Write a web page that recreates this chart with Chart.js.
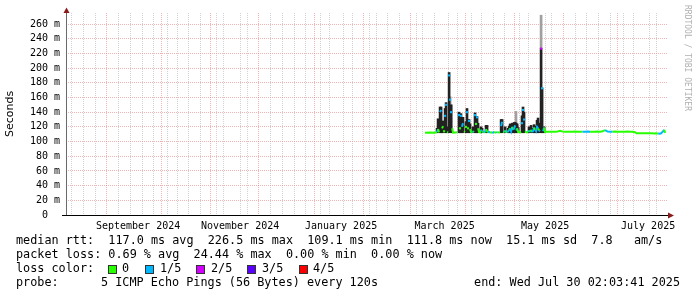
<!DOCTYPE html>
<html>
<head>
<meta charset="utf-8">
<script src="https://cdn.jsdelivr.net/npm/chart.js@4"></script>
<style>
  body { margin: 0; background: #fff; }
  canvas { display: block; }
</style>
</head>
<body>
<canvas id="chart" width="697" height="297"></canvas>
<script>
// smokeping style graph, last 360 days ending Wed Jul 30 02:03:41 2025
// x values are days since the window start (Aug 4 2024 02:03:41)
var windowStart = Date.UTC(2024, 7, 4, 2, 3, 41);
var windowDays = 360;
var yMax = 275;

var monthLabels = ['September 2024', 'November 2024', 'January 2025', 'March 2025', 'May 2025', 'July 2025'];
var monthLabelDays = [43.1, 104.1, 164.5, 226.4, 286.5, 348.1];
var yLabelValues = [0, 20, 40, 60, 80, 100, 120, 140, 160, 180, 200, 220, 240, 260];

// median rtt (ms), top of the dark smoke (ms, null = none), loss index (0..4)
var days = [
  214.7, 217.7, 220.7, 221.9, 222.5, 223.1, 223.7, 224.3, 224.9, 225.5,
  226.1, 226.7, 227.3, 227.9, 228.5, 229.1, 229.7, 230.3, 230.9, 231.5,
  232.7, 233.9, 235.0, 235.6, 236.2, 236.8, 237.4, 238.0, 238.6, 239.2,
  239.8, 240.4, 241.0, 241.6, 242.2, 242.8, 243.4, 244.0, 244.6, 245.2,
  245.8, 246.4, 247.0, 247.6, 248.2, 248.8, 249.4, 250.0, 250.6, 251.2,
  251.8, 252.4, 253.0, 253.6, 254.2, 254.8, 255.4, 256.0, 256.6, 257.2,
  257.8, 258.4, 259.0, 259.6, 260.2, 260.8, 261.4, 262.0, 262.6, 263.2,
  263.8, 264.4, 265.0, 265.6, 266.2, 266.8, 267.4, 268.0, 268.6, 269.2,
  269.8, 270.4, 271.0, 271.6, 272.2, 272.7, 273.3, 273.9, 274.5, 275.1,
  275.7, 276.3, 276.9, 277.5, 278.1, 278.7, 279.3, 279.9, 280.5, 281.1,
  281.7, 282.3, 282.9, 283.5, 284.1, 284.7, 285.3, 285.9, 286.5, 287.1,
  288.3, 289.5, 291.0, 292.5, 294.0, 295.5, 297.0, 298.4, 299.9, 301.4,
  302.9, 304.4, 305.9, 307.4, 308.9, 310.4, 311.9, 313.4, 314.9, 316.4,
  317.9, 319.4, 320.9, 322.4, 323.9, 325.4, 326.9, 328.3, 329.8, 331.3,
  332.8, 334.3, 335.8, 337.3, 338.8, 340.3, 341.2, 342.1, 343.3, 344.5,
  345.7, 346.9, 348.1, 349.3, 350.5, 351.7, 352.9, 354.1, 355.0, 355.9,
  356.5, 357.1, 357.7, 358.3
];
var median = [
  112.0, 112.2, 112.0, 113.0, 117.0, 112.5, 140.0, 143.0, 118.0, 121.0,
  114.0, 135.0, 150.0, 113.0, 112.5, 190.0, 157.0, 140.0, 118.0, 112.0,
  112.3, 112.5, 136.0, 118.0, 135.0, 120.0, 125.0, 114.0, 113.0, 120.0,
  140.0, 118.0, 128.0, 117.0, 113.0, 112.5, 114.0, 113.0, 136.0, 124.0,
  133.0, 118.0, 113.0, 112.5, 116.0, 114.0, 112.5, 113.0, 112.5, 117.0,
  114.0, 112.5, 113.0, 112.0, 112.5, 112.0, 112.3, 113.0, 112.5, 112.0,
  113.0, 112.5, 112.2, 112.5, 121.0, 127.0, 113.0, 112.5, 115.0, 113.0,
  112.5, 114.0, 116.0, 118.0, 114.0, 120.0, 116.0, 118.0, 122.0, 115.0,
  118.0, 113.0, 113.0, 112.5, 113.0, 125.0, 143.0, 130.0, 114.0, 113.0,
  112.5, 113.0, 115.0, 113.0, 116.0, 113.0, 114.0, 119.0, 116.0, 114.0,
  120.0, 118.0, 115.0, 114.0, 226.5, 172.5, 114.0, 119.0, 113.0, 113.3,
  113.3, 113.2, 113.4, 113.3, 113.6, 114.5, 113.5, 113.3, 113.2, 113.4,
  113.3, 113.6, 113.2, 113.4, 113.3, 113.5, 113.7, 113.4, 113.2, 113.4,
  113.6, 113.3, 114.0, 115.5, 113.6, 113.4, 113.3, 113.7, 113.4, 113.2,
  113.5, 113.4, 113.6, 113.3, 113.2, 112.8, 111.3, 111.2, 111.3, 111.2,
  111.4, 111.3, 111.2, 111.4, 111.3, 111.1, 111.4, 110.8, 110.6, 111.3,
  112.5, 114.0, 116.0, 111.8
];
var smokeTop = [
  null, null, null, 118, 131, null, 147, 147, 125, 128,
  null, 145, 153, 120, null, 194, null, 150, null, null,
  null, null, 140, 130, 138, 128, 133, null, null, 127,
  145, 128, 130, 124, null, null, 120, null, 139, 132,
  134, 125, null, null, 120, 118, null, null, null, 122,
  122, null, null, null, null, null, null, null, null, null,
  null, null, null, null, 130, 130, null, null, 120, null,
  null, 118, 121, 124, 122, 125, 123, 126, 126, 125,
  124, 119, null, null, null, 135, 147, 140, null, null,
  null, null, 120, null, 122, null, 118, 123, 121, 119,
  129, 132, 125, null, 227, 173, 119, 120, null, null,
  null, null, null, null, null, null, null, null, null, null,
  null, null, null, null, null, null, null, null, null, null,
  null, null, null, null, null, null, null, null, null, null,
  null, null, null, null, null, null, null, null, null, null,
  null, null, null, null, null, null, null, null, null, null,
  null, null, null, null
];
var loss = [
  0, 0, 0, 0, 1, 0, 1, 1, 1, 0,
  0, 1, 1, 0, 0, 1, 1, 1, 1, 0,
  0, 0, 1, 0, 1, 0, 1, 0, 0, 0,
  1, 0, 1, 0, 0, 0, 1, 0, 1, 0,
  1, 0, 0, 0, 0, 1, 0, 1, 0, 1,
  0, 0, 1, 1, 0, 0, 1, 1, 0, 0,
  1, 0, 0, 0, 1, 1, 0, 0, 1, 0,
  0, 1, 1, 0, 1, 1, 0, 1, 1, 0,
  1, 0, 0, 0, 0, 1, 1, 1, 0, 0,
  0, 0, 1, 0, 1, 0, 1, 1, 0, 1,
  1, 1, 0, 1, 2, 1, 1, 1, 0, 0,
  0, 0, 0, 0, 0, 0, 0, 0, 0, 0,
  0, 0, 0, 0, 0, 1, 1, 1, 0, 0,
  0, 0, 0, 0, 1, 1, 1, 0, 0, 0,
  0, 0, 0, 0, 0, 0, 0, 0, 0, 0,
  0, 0, 0, 0, 0, 0, 0, 0, 1, 1,
  1, 1, 1, 0
];
var smokeBase = 112;

// lighter smoke (outlier pings)
var lightDays = [229.7, 230.3, 269.1, 284.1];
var lightLow = [120, 115, 118, 227];
var lightHigh = [161, 150, 141, 272];

var lossColors = ['#26ff00', '#00b8ff', '#d400ff', '#5a00ff', '#ff0000'];
var lossNames = ['0', '1/5', '2/5', '3/5', '4/5'];
var majorGrid = 'rgba(230,120,120,0.55)';
var minorGrid = '#d2d2d2';
var jump = 6;

function dayOf(y, m, d) {
  return (Date.UTC(y, m, d) - windowStart) / 86400000;
}

// grid ticks: weekly (sundays), monthly, plus label positions
var xTicks = [];
var monthStarts = [];
for (var m = 8; m <= 19; m++) {
  var md = dayOf(2024, m, 1);
  if (md > 0 && md < windowDays) monthStarts.push(md);
}
for (var w = dayOf(2024, 7, 11); w < windowDays; w += 7) {
  var isMonth = monthStarts.some(function(md) { return Math.abs(md - w) < 0.01; });
  if (!isMonth) xTicks.push({ value: w, kind: 'week' });
}
monthStarts.forEach(function(md) { xTicks.push({ value: md, kind: 'month' }); });
monthLabelDays.forEach(function(d, i) { xTicks.push({ value: d, kind: 'label', text: monthLabels[i] }); });
xTicks.sort(function(a, b) { return a.value - b.value; });

var yTicks = [];
for (var v = 0; v < yMax; v += 10) yTicks.push({ value: v });

var medianPts = days.map(function(d, i) { return { x: d, y: median[i] }; });
var darkPts = [];
days.forEach(function(d, i) {
  if (smokeTop[i] !== null) darkPts.push({ x: d, y: [Math.min(median[i], smokeBase), smokeTop[i]] });
});
var lightPts = lightDays.map(function(d, i) { return { x: d, y: [lightLow[i], lightHigh[i]] }; });

// a median value that is not joined to either neighbour gets a small marker
function isolated(i) {
  var prev = i > 0 ? Math.abs(median[i] - median[i - 1]) > jump : true;
  var next = i < median.length - 1 ? Math.abs(median[i + 1] - median[i]) > jump : true;
  return prev && next;
}

var monoFont = { family: 'DejaVu Sans Mono', size: 10 };

var rrdDecor = {
  id: 'rrdDecor',
  afterDraw: function(chart) {
    var c = chart.ctx;
    c.save();
    // axes
    c.lineWidth = 1;
    c.strokeStyle = '#6a6a6a';
    c.beginPath(); c.moveTo(66.5, 12); c.lineTo(66.5, 216); c.stroke();
    c.strokeStyle = '#000';
    c.beginPath(); c.moveTo(62, 215.5); c.lineTo(669, 215.5); c.stroke();
    // arrows
    c.fillStyle = '#8b1a1a';
    c.beginPath(); c.moveTo(63.5, 13); c.lineTo(69.5, 13); c.lineTo(66.5, 7.5); c.closePath(); c.fill();
    c.beginPath(); c.moveTo(668, 212.5); c.lineTo(668, 218.5); c.lineTo(674, 215.5); c.closePath(); c.fill();

    // legend
    c.fillStyle = '#000';
    c.font = '11.8px "DejaVu Sans Mono"';
    c.textBaseline = 'middle';
    c.textAlign = 'left';
    c.fillText('median rtt:  117.0 ms avg  226.5 ms max  109.1 ms min  111.8 ms now  15.1 ms sd  7.8   am/s', 16, 241);
    c.fillText('packet loss: 0.69 % avg  24.44 % max  0.00 % min  0.00 % now', 16, 255);
    c.fillText('loss color:', 16, 269);
    var boxX = [108, 145, 196, 247, 299];
    var textX = [122, 160, 211, 262, 313];
    for (var i = 0; i < lossNames.length; i++) {
      c.fillStyle = lossColors[i];
      c.fillRect(boxX[i], 265, 8, 8);
      c.strokeStyle = '#333';
      c.strokeRect(boxX[i] + 0.5, 265.5, 8, 8);
      c.fillStyle = '#000';
      c.fillText(lossNames[i], textX[i], 269);
    }
    c.fillText('probe:', 16, 283);
    c.fillText('5 ICMP Echo Pings (56 Bytes) every 120s', 101, 283);
    c.textAlign = 'right';
    c.fillText('end: Wed Jul 30 02:03:41 2025', 680, 283);

    // watermark
    c.translate(687, 5);
    c.rotate(Math.PI / 2);
    c.textAlign = 'left';
    c.fillStyle = '#b0b0b0';
    c.font = '8px "DejaVu Sans Mono"';
    c.fillText('RRDTOOL / TOBI OETIKER', 0, 0);
    c.restore();
  }
};

new Chart(document.getElementById('chart'), {
  type: 'bar',
  data: {
    datasets: [
      {
        type: 'line',
        label: 'median rtt',
        data: medianPts,
        order: 0,
        borderWidth: 2,
        tension: 0,
        pointStyle: 'rect',
        pointRadius: function(ctx) { return isolated(ctx.dataIndex) ? 1.5 : 0; },
        pointBorderWidth: 0,
        pointBackgroundColor: function(ctx) { return lossColors[loss[ctx.dataIndex]]; },
        borderColor: lossColors[0],
        segment: {
          borderColor: function(ctx) {
            if (Math.abs(ctx.p1.parsed.y - ctx.p0.parsed.y) > jump) return 'rgba(0,0,0,0)';
            return lossColors[loss[ctx.p1DataIndex]];
          }
        }
      },
      {
        label: 'smoke',
        data: darkPts,
        order: 1,
        grouped: false,
        barThickness: 2,
        borderWidth: 0,
        backgroundColor: '#222222'
      },
      {
        label: 'smoke outliers',
        data: lightPts,
        order: 2,
        grouped: false,
        barThickness: 2,
        borderWidth: 0,
        backgroundColor: '#a0a0a0'
      }
    ]
  },
  options: {
    responsive: false,
    animation: false,
    layout: { padding: { left: 0, right: 29, top: 13, bottom: 0 } },
    plugins: { legend: { display: false }, tooltip: { enabled: false } },
    scales: {
      x: {
        type: 'linear',
        min: 0,
        max: windowDays,
        offset: false,
        afterBuildTicks: function(scale) {
          scale.ticks = xTicks.map(function(t) { return { value: t.value, kind: t.kind, text: t.text }; });
        },
        afterFit: function(scale) { scale.height = 82; },
        grid: {
          drawTicks: false,
          lineWidth: 1,
          color: function(ctx) {
            var t = ctx.tick;
            if (!t) return 'rgba(0,0,0,0)';
            if (t.kind === 'month') return majorGrid;
            if (t.kind === 'week') return minorGrid;
            return 'rgba(0,0,0,0)';
          }
        },
        border: { display: false, dash: [1, 1] },
        ticks: {
          autoSkip: false,
          maxRotation: 0,
          padding: 5,
          color: '#000',
          font: monoFont,
          callback: function(value, index, ticks) { return ticks[index].text || ''; }
        }
      },
      y: {
        min: 0,
        max: yMax,
        afterBuildTicks: function(scale) {
          scale.ticks = yTicks.map(function(t) { return { value: t.value }; });
        },
        afterFit: function(scale) { scale.width = 66; },
        grid: {
          drawTicks: false,
          lineWidth: 1,
          color: function(ctx) {
            if (!ctx.tick) return 'rgba(0,0,0,0)';
            return yLabelValues.indexOf(ctx.tick.value) >= 0 ? majorGrid : minorGrid;
          }
        },
        border: { display: false, dash: [1, 1] },
        ticks: {
          padding: 6,
          color: '#000',
          font: monoFont,
          callback: function(value) {
            if (yLabelValues.indexOf(value) < 0) return '';
            return value === 0 ? '0  ' : value + ' m';
          }
        },
        title: {
          display: true,
          text: 'Seconds',
          color: '#000',
          font: { family: 'DejaVu Sans', size: 11 },
          padding: { top: 4, bottom: 0 }
        }
      }
    }
  },
  plugins: [rrdDecor]
});
</script>
</body>
</html>
